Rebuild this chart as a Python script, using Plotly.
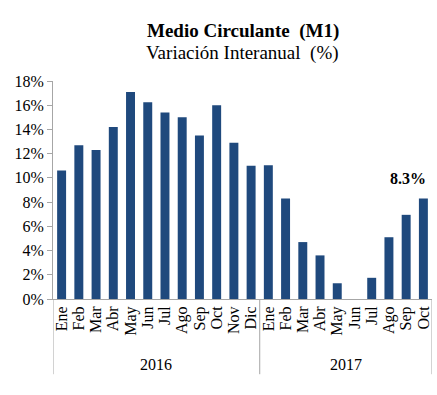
import plotly.graph_objects as go

years = ["2016", "2017"]
year_counts = [12, 10]
months = ["Ene", "Feb", "Mar", "Abr", "May", "Jun", "Jul", "Ago", "Sep", "Oct", "Nov", "Dic",
          "Ene", "Feb", "Mar", "Abr", "May", "Jun", "Jul", "Ago", "Sep", "Oct"]
values = [10.6, 12.7, 12.3, 14.2, 17.1, 16.25, 15.4, 15.0, 13.5, 16.0, 12.9, 11.0,
          11.05, 8.3, 4.7, 3.6, 1.3, 0.0, 1.75, 5.1, 6.95, 8.3]
y_ticks = [0, 2, 4, 6, 8, 10, 12, 14, 16, 18]
y_ticklabels = [f"{v}%" for v in y_ticks]
last_label = "8.3%"

font = "Liberation Serif"
axis_grey = "#A6A6A6"
bar_w = 0.52

x = list(range(len(months)))

fig = go.Figure()
fig.add_trace(go.Bar(x=x, y=values, marker_color="#1F497D", width=bar_w,
                     marker_line_width=0, hoverinfo="skip"))

# label over the last bar
fig.add_annotation(x=x[-1] + bar_w / 2, y=values[-1], text=f"<b>{last_label}</b>",
                   showarrow=False, xanchor="right", yanchor="bottom", yshift=9,
                   font=dict(family=font, size=16, color="black"))

# year group labels and dividers
start = -0.5
boundaries = [start]
for yr, n in zip(years, year_counts):
    end = start + n
    fig.add_annotation(x=(start + end) / 2, y=-0.30, xref="x", yref="paper",
                       text=yr, showarrow=False, xanchor="center", yanchor="middle",
                       font=dict(family=font, size=16, color="black"))
    boundaries.append(end)
    start = end
for b in boundaries:
    fig.add_shape(type="line", x0=b, x1=b, y0=0, y1=-0.345, xref="x", yref="paper",
                  line=dict(color=axis_grey, width=1))

# titles
fig.add_annotation(x=0.5, y=1.229, xref="paper", yref="paper", text="<b>Medio Circulante  (M1)</b>",
                   showarrow=False, xanchor="center", yanchor="middle",
                   font=dict(family=font, size=19, color="black"))
fig.add_annotation(x=0.5, y=1.127, xref="paper", yref="paper", text="Variación Interanual  (%)",
                   showarrow=False, xanchor="center", yanchor="middle",
                   font=dict(family=font, size=19, color="black"))

fig.update_layout(
    width=437, height=395,
    margin=dict(l=53, r=5, t=81, b=96),
    paper_bgcolor="white", plot_bgcolor="white",
    showlegend=False,
    font=dict(family=font, size=16, color="black"),
    xaxis=dict(
        range=[-0.5, len(months) - 0.5], tickmode="array", tickvals=x, ticktext=months,
        tickangle=-90, showline=True, linecolor=axis_grey, ticks="", showgrid=False,
        zeroline=False, automargin=False, tickfont=dict(family=font, size=16, color="black"),
    ),
    yaxis=dict(
        range=[0, 18], tickvals=y_ticks, ticktext=y_ticklabels, showline=True,
        linecolor=axis_grey, ticks="outside", ticklen=5, tickcolor=axis_grey,
        showgrid=False, zeroline=False, automargin=False,
        tickfont=dict(family=font, size=16, color="black"),
    ),
)

fig.write_html("out.html", config={"displayModeBar": False},
               post_script="document.body.style.margin='0px';")
